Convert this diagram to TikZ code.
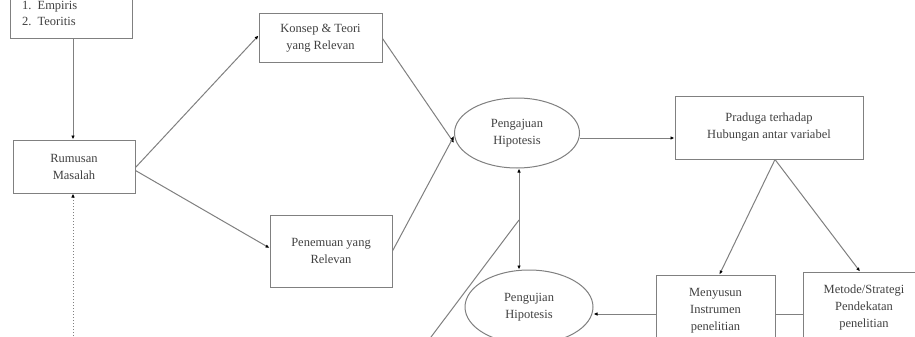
\documentclass[tikz,border=0pt]{standalone}
\usepackage{fontspec}
\setmainfont{Liberation Serif}
\usetikzlibrary{arrows.meta,shapes.geometric}
\begin{document}
\begin{tikzpicture}[x=1pt,y=-1pt,
  line/.style={draw=black!50,line width=1pt},
  arr/.style={line,-{Latex[length=4pt,width=3.5pt,black]}},
  box/.style={line,rectangle,align=center,inner sep=2pt,font=\fontsize{12.5}{17}\selectfont,text=black!75},
  oval/.style={line,ellipse,align=center,inner sep=0pt,font=\fontsize{12.5}{17}\selectfont,text=black!75}]
\useasboundingbox (0,0) rectangle (915,337);
\clip (0,0) rectangle (915,337);
\fill[white] (0,0) rectangle (915,337);
% nodes
\node[box,minimum width=122pt,minimum height=52pt,text width=98pt,align=left] (tl) at (71,13) {1. Empiris\\[-1pt]2. Teoritis};
\node[box,minimum width=122pt,minimum height=53pt] (rm) at (74,166.5) {Rumusan\\Masalah};
\node[box,minimum width=123pt,minimum height=49pt] (ks) at (320.5,38.5) {Konsep \& Teori\\yang Relevan};
\node[box,minimum width=122pt,minimum height=72pt] (pn) at (331,251) {Penemuan yang\\Relevan};
\node[oval,minimum width=125pt,minimum height=70pt] (pa) at (517,133) {Pengajuan\\Hipotesis};
\node[box,minimum width=188pt,minimum height=63pt] (pr) at (769,127.5) {Praduga terhadap\\Hubungan antar variabel};
\node[oval,minimum width=128pt,minimum height=74pt] (pj) at (529,307) {Pengujian\\Hipotesis};
\node[box,minimum width=119pt,minimum height=72pt] (mn) at (715.5,311) {Menyusun\\Instrumen\\penelitian};
\node[box,minimum width=122pt,minimum height=70pt] (mt) at (864,307) {Metode/Strategi\\Pendekatan\\penelitian};
% free ends
\coordinate (dotend) at (73,345);
\coordinate (J) at (519,220);
\coordinate (diagend) at (425,345);
% connectors
\draw[arr] (tl.south -| 73,0) -- (rm.north -| 73,0);
\draw[arr,dotted] (dotend) -- (rm.south -| 73,0);
\draw[arr] ([yshift=-1pt]rm.east) -- ([yshift=3pt]ks.west);
\draw[arr] ([yshift=-4pt]rm.east) -- ([yshift=3pt]pn.west);
\draw[arr] (ks.east) -- ([yshift=-10pt]pa.west);
\draw[arr] (pn.east) -- ([yshift=-3pt]pa.west);
\draw[arr] ([yshift=-5pt]pa.east) -- ([yshift=-5pt]pa.east -| pr.west);
\draw[arr] (J) -- (pa.south -| J);
\draw[arr] (J) -- (pj.north -| J);
\draw[line] (diagend) -- (J);
\draw[arr] ([yshift=-3pt]mn.west) -- ([yshift=-3pt]mn.west -| pj.east);
\draw[line] ([yshift=-3pt]mn.east) -- ([yshift=-3pt]mn.east -| mt.west);
\draw[arr] ([xshift=6pt]pr.south) -- ([xshift=4pt]mn.north);
\draw[arr] ([xshift=6pt]pr.south) -- ([xshift=-4pt]mt.north);
\end{tikzpicture}
\end{document}
